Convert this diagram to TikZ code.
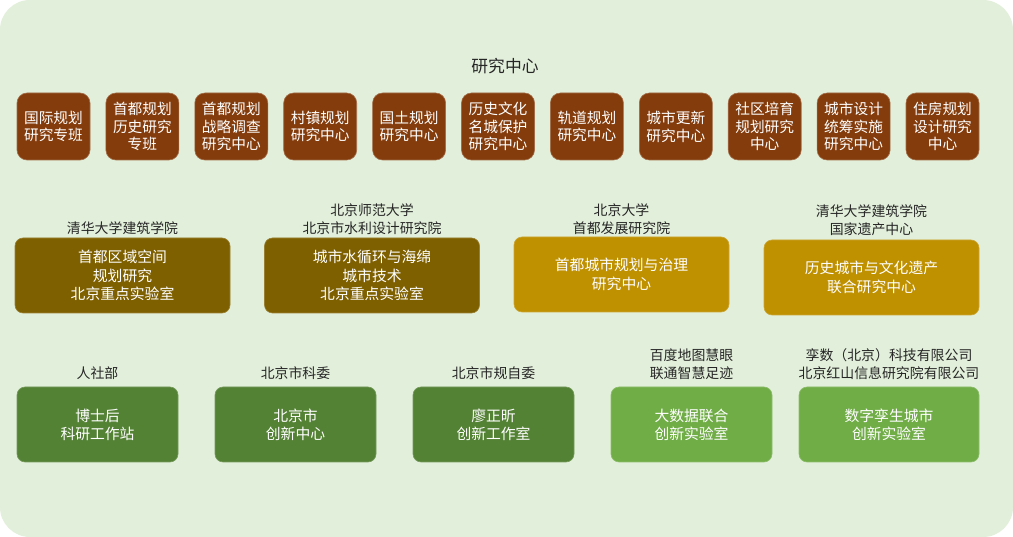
\documentclass[tikz,border=0pt]{standalone}
\usepackage{fontspec}
\setmainfont{Noto Sans CJK SC}
\definecolor{bgc}{HTML}{E2EFDA}
\definecolor{brownc}{HTML}{843C0C}
\definecolor{olivec}{HTML}{7F6000}
\definecolor{goldc}{HTML}{BF9000}
\definecolor{dgreenc}{HTML}{548235}
\definecolor{lgreenc}{HTML}{70AD47}
\definecolor{labc}{HTML}{262626}
\tikzset{
  topbox/.style={fill=brownc, draw=brownc!75!white, line width=0.6pt, rounded corners=10pt,
    minimum width=73pt, minimum height=67pt, inner sep=0pt, align=center, text=white,
    font=\fontsize{14.7}{17.8}\selectfont},
  midbox/.style={rounded corners=8pt, line width=0.6pt, minimum width=215pt, minimum height=75pt,
    inner sep=0pt, align=center, text=white, font=\fontsize{14.8}{18.5}\selectfont},
  lowbox/.style={rounded corners=8pt, line width=0.6pt, minimum width=161pt, minimum height=75pt,
    inner sep=0pt, align=center, text=white, font=\fontsize{14.8}{18}\selectfont},
  lab/.style={text=labc, align=center, inner sep=0pt, font=\fontsize{13.9}{17.5}\selectfont},
}
\begin{document}
\begin{tikzpicture}[x=1pt,y=-1pt]
\useasboundingbox (0,0) rectangle (1013,537);
\fill[white] (0,0) rectangle (1013,537);
\fill[bgc, rounded corners=30pt] (0,0) rectangle (1013,537);
\node[text=labc, inner sep=0pt, font=\fontsize{16.8}{20}\selectfont] (title) at (505,66) {研究中心};
% top row
\node[topbox] (t1) at (53.5,126.5) {国际规划\\研究专班};
\node[topbox] (t2) at (142.4,126.5) {首都规划\\历史研究\\专班};
\node[topbox] (t3) at (231.3,126.5) {首都规划\\战略调查\\研究中心};
\node[topbox] (t4) at (320.2,126.5) {村镇规划\\研究中心};
\node[topbox] (t5) at (409.1,126.5) {国土规划\\研究中心};
\node[topbox] (t6) at (498.0,126.5) {历史文化\\名城保护\\研究中心};
\node[topbox] (t7) at (586.9,126.5) {轨道规划\\研究中心};
\node[topbox] (t8) at (675.8,126.5) {城市更新\\研究中心};
\node[topbox] (t9) at (764.7,126.5) {社区培育\\规划研究\\中心};
\node[topbox] (t10) at (853.6,126.5) {城市设计\\统筹实施\\研究中心};
\node[topbox] (t11) at (942.5,126.5) {住房规划\\设计研究\\中心};
% middle row
\node[midbox, fill=olivec, draw=olivec!80!white] (m1) at (122.5,275.5) {首都区域空间\\规划研究\\北京重点实验室};
\node[midbox, fill=olivec, draw=olivec!80!white] (m2) at (372,275.5) {城市水循环与海绵\\城市技术\\北京重点实验室};
\node[midbox, fill=goldc, draw=goldc!80!white] (m3) at (621.5,274.5) {首都城市规划与治理\\研究中心};
\node[midbox, fill=goldc, draw=goldc!80!white] (m4) at (871.5,277.5) {历史城市与文化遗产\\联合研究中心};
\node[lab] (ml1) at (122.5,228) {清华大学建筑学院};
\node[lab] (ml2) at (372,219) {北京师范大学\\北京市水利设计研究院};
\node[lab] (ml3) at (621.5,219) {北京大学\\首都发展研究院};
\node[lab] (ml4) at (871.5,220) {清华大学建筑学院\\国家遗产中心};
% bottom row
\node[lowbox, fill=dgreenc, draw=dgreenc!80!white] (b1) at (97.5,424.5) {博士后\\科研工作站};
\node[lowbox, fill=dgreenc, draw=dgreenc!80!white] (b2) at (295.5,424.5) {北京市\\创新中心};
\node[lowbox, fill=dgreenc, draw=dgreenc!80!white] (b3) at (493.5,424.5) {廖正昕\\创新工作室};
\node[lowbox, fill=lgreenc, draw=lgreenc!80!white] (b4) at (691.5,424.5) {大数据联合\\创新实验室};
\node[lowbox, fill=lgreenc, draw=lgreenc!80!white, minimum width=180pt] (b5) at (889,424.5) {数字孪生城市\\创新实验室};
\node[lab] (bl1) at (97.5,373) {人社部};
\node[lab] (bl2) at (295.5,373) {北京市科委};
\node[lab] (bl3) at (493.5,373) {北京市规自委};
\node[lab] (bl4) at (691.5,364) {百度地图慧眼\\联通智慧足迹};
\node[lab] (bl5) at (889,364) {孪数（北京）科技有限公司\\北京红山信息研究院有限公司};
\end{tikzpicture}
\end{document}
